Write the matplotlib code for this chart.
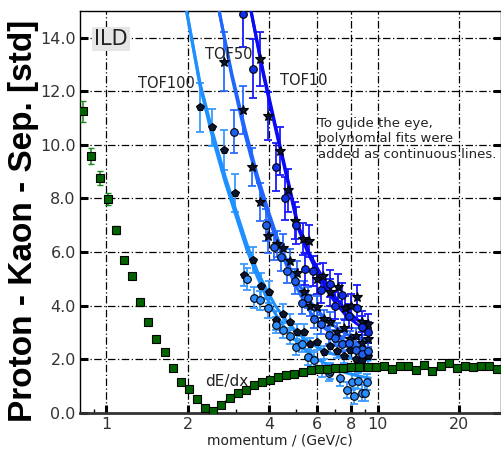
import numpy as np
import matplotlib
matplotlib.use('Agg')
import matplotlib.pyplot as plt
from matplotlib.ticker import FixedLocator, FixedFormatter, NullFormatter

# ---------------- data ----------------
# dE/dx separation (green squares)
dedx_p = [0.825, 0.884, 0.947, 1.014, 1.087, 1.164, 1.247, 1.336, 1.431, 1.533,
          1.643, 1.760, 1.885, 2.020, 2.164, 2.318, 2.483, 2.660, 2.850, 3.053,
          3.271, 3.504, 3.753, 4.021, 4.308, 4.615, 4.944, 5.296, 5.674, 6.078,
          6.512, 6.976, 7.473, 8.006, 8.577, 9.189, 9.844, 10.545, 11.297, 12.103,
          12.966, 13.890, 14.880, 15.941, 17.078, 18.295, 19.600, 20.997, 22.494,
          24.098, 25.816, 27.657]
dedx_y = [11.25, 9.57, 8.76, 7.98, 6.83, 5.71, 5.09, 4.12, 3.38, 2.77,
          2.26, 1.68, 1.15, 0.89, 0.50, 0.16, 0.05, 0.27, 0.56, 0.72,
          0.86, 1.03, 1.13, 1.24, 1.34, 1.40, 1.44, 1.53, 1.59, 1.62,
          1.64, 1.66, 1.68, 1.69, 1.70, 1.70, 1.69, 1.74, 1.63, 1.74,
          1.74, 1.61, 1.78, 1.56, 1.76, 1.84, 1.68, 1.76, 1.71, 1.76,
          1.74, 1.63]
dedx_err = [0.4, 0.3, 0.25, 0.22, 0.15, 0.1, 0.08, 0.06, 0.05, 0.05,
            0.05, 0.05, 0.05, 0.05, 0.05, 0.05, 0.05, 0.05, 0.05, 0.05,
            0.05, 0.05, 0.05, 0.05, 0.05, 0.05, 0.05, 0.05, 0.05, 0.05,
            0.05, 0.05, 0.05, 0.05, 0.05, 0.05, 0.05, 0.05, 0.05, 0.05,
            0.05, 0.05, 0.05, 0.05, 0.05, 0.05, 0.05, 0.05, 0.05, 0.05,
            0.05, 0.05]

# TOF100 (light blue)
p100a = [2.22, 2.46, 2.72, 2.98, 3.23, 3.48, 3.72, 3.98, 4.22, 4.5, 4.78, 5.05,
         5.35, 5.65, 6.0, 6.35, 6.7, 7.1, 7.5, 7.9, 8.3, 8.75, 9.2]
y100a = [11.4, 10.65, 9.8, 8.2, 5.15, 5.7, 4.75, 4.5, 3.45, 3.7, 3.4, 3.0,
         3.0, 2.55, 2.65, 2.25, 2.5, 2.3, 2.1, 2.35, 2.0, 1.95, 2.1]
e100a = [0.9, 0.7, 0.75, 0.7, 0.4, 0.5, 0.45, 0.4, 0.35, 0.35, 0.3, 0.3,
         0.3, 0.25, 0.3, 0.25, 0.3, 0.25, 0.25, 0.3, 0.25, 0.25, 0.3]
p100b = [3.3, 3.52, 3.69, 3.95, 4.22, 4.48, 4.75, 5.0, 5.25, 5.56, 5.85, 6.24,
         6.6, 6.7, 7.28, 7.7, 8.04, 8.2, 8.5, 8.75, 9.0, 9.15]
y100b = [5.0, 4.3, 4.2, 3.9, 3.27, 3.1, 2.85, 2.45, 2.58, 2.08, 1.95, 1.65,
         1.5, 1.56, 1.28, 0.85, 1.15, 0.63, 1.2, 0.72, 0.75, 1.15]
e100b = [0.4, 0.4, 0.35, 0.35, 0.3, 0.3, 0.3, 0.3, 0.3, 0.3, 0.3, 0.3,
         0.3, 0.3, 0.3, 0.3, 0.3, 0.3, 0.3, 0.3, 0.3, 0.3]

# TOF50 (medium blue)
p50a = [2.72, 3.2, 3.45, 3.69, 3.96, 4.26, 4.5, 4.76, 5.05, 5.35, 5.65, 6.0,
        6.35, 6.7, 7.1, 7.5, 7.9, 8.3, 8.75, 9.2]
y50a = [13.1, 11.3, 9.18, 7.86, 6.58, 6.3, 6.16, 5.68, 5.2, 4.5, 4.0, 3.95,
        3.5, 3.4, 3.0, 3.15, 2.75, 2.85, 2.6, 2.75]
e50a = [1.1, 0.9, 0.7, 0.7, 0.6, 0.5, 0.5, 0.45, 0.45, 0.4, 0.4, 0.4,
        0.35, 0.35, 0.35, 0.35, 0.3, 0.3, 0.3, 0.3]
p50b = [2.96, 3.9, 4.15, 4.4, 4.65, 4.95, 5.25, 5.55, 5.85, 6.2, 6.6, 7.0,
        7.4, 7.85, 8.3, 8.75, 9.2]
y50b = [10.5, 7.0, 6.2, 5.8, 5.3, 4.9, 4.1, 4.3, 3.5, 3.3, 2.9, 2.8,
        2.55, 2.6, 2.35, 2.2, 2.3]
e50b = [0.8, 0.6, 0.5, 0.5, 0.45, 0.45, 0.4, 0.4, 0.35, 0.35, 0.35, 0.3,
        0.3, 0.3, 0.3, 0.3, 0.3]

# TOF10 (dark blue)
p10a = [3.7, 3.96, 4.38, 4.7, 4.97, 5.3, 5.6, 5.98, 6.3, 6.68, 7.16, 7.6,
        8.0, 8.37, 8.8, 9.2]
y10a = [13.2, 11.08, 9.78, 8.3, 7.17, 6.5, 6.4, 5.0, 5.1, 4.5, 4.69, 3.9,
        4.0, 4.32, 3.4, 3.3]
e10a = [1.0, 0.9, 0.9, 0.8, 0.7, 0.6, 0.6, 0.55, 0.5, 0.5, 0.5, 0.45,
        0.45, 0.45, 0.4, 0.4]
p10b = [3.2, 3.47, 4.22, 4.55, 5.0, 5.41, 5.8, 6.2, 6.68, 7.0, 7.4, 7.85,
        8.37, 8.8, 9.2]
y10b = [14.87, 12.85, 9.18, 8.0, 7.0, 5.38, 5.3, 4.6, 4.82, 4.0, 4.4, 3.6,
        3.9, 3.2, 3.0]
e10b = [1.2, 1.1, 0.9, 0.8, 0.7, 0.6, 0.55, 0.5, 0.5, 0.5, 0.45, 0.45,
        0.45, 0.4, 0.4]

# polynomial-fit guide lines
fit100u_p = [1.98, 2.22, 2.48, 2.75, 3.0, 3.3, 3.6, 3.9, 4.2, 4.6, 5.0, 5.4, 6.0, 6.8, 7.6, 8.5, 9.5]
fit100u_y = [15.0, 12.3, 10.4, 8.8, 7.6, 6.3, 5.3, 4.6, 4.0, 3.45, 3.05, 2.75, 2.45, 2.2, 2.07, 2.0, 1.96]
fit100l_p = [1.98, 2.22, 2.48, 2.75, 3.0, 3.3, 3.6, 3.9, 4.2, 4.6, 5.0, 5.4, 6.0, 6.8, 7.6, 8.5, 9.5]
fit100l_y = [15.0, 12.2, 10.2, 8.6, 7.4, 6.1, 5.1, 4.3, 3.7, 3.1, 2.7, 2.35, 2.0, 1.7, 1.5, 1.37, 1.28]
fit50u_p = [2.61, 2.9, 3.25, 3.6, 4.0, 4.32, 4.76, 5.2, 5.7, 6.3, 7.0, 7.8, 8.6, 9.5]
fit50u_y = [15.0, 12.7, 10.6, 8.9, 7.4, 6.4, 5.4, 4.7, 4.1, 3.6, 3.2, 2.9, 2.75, 2.64]
fit50l_p = [2.61, 2.9, 3.25, 3.6, 4.0, 4.32, 4.76, 5.2, 5.7, 6.3, 7.0, 7.8, 8.6, 9.5]
fit50l_y = [15.0, 12.6, 10.4, 8.7, 7.2, 6.2, 5.2, 4.4, 3.7, 3.2, 2.85, 2.6, 2.43, 2.33]
fit10u_p = [3.42, 3.8, 4.3, 4.7, 5.1, 5.55, 6.0, 6.5, 7.0, 7.7, 8.5, 9.5]
fit10u_y = [15.0, 12.7, 10.3, 8.6, 7.0, 6.05, 5.4, 4.8, 4.3, 3.8, 3.45, 3.27]
fit10l_p = [3.42, 3.8, 4.3, 4.7, 5.1, 5.55, 6.0, 6.5, 7.0, 7.7, 8.5, 9.5]
fit10l_y = [15.0, 12.6, 10.2, 8.5, 6.9, 5.95, 5.25, 4.6, 4.1, 3.6, 3.28, 3.08]

x_ticks = [1, 2, 4, 6, 8, 10, 20]
x_minor = [0.9, 3, 5, 7, 9]
y_ticks = [0, 2, 4, 6, 8, 10, 12, 14]
y_labels = ['0.0', '2.0', '4.0', '6.0', '8.0', '10.0', '12.0', '14.0']

# ---------------- plot ----------------
fig = plt.figure(figsize=(5.02, 4.51), dpi=100)
ax = fig.add_axes([0.1594, 0.0849, 0.8386, 0.8907])
ax.set_xscale('log')
ax.set_xlim(0.802, 28.5)
ax.set_ylim(0, 15)

grid_ls = (0, (6, 2, 1, 2))
for xv in x_ticks:
    ax.axvline(xv, color='black', lw=0.9, ls=grid_ls, zorder=1)
for yv in y_ticks[1:]:
    ax.axhline(yv, color='black', lw=0.9, ls=grid_ls, zorder=1)

dark = '#0b1530'
series = [
    (p100a, y100a, e100a, '#3a9bff', 'p', dark),
    (p100b, y100b, e100b, '#3a9bff', 'o', '#2a8cff'),
    (p50a, y50a, e50a, '#2b6cff', '*', dark),
    (p50b, y50b, e50b, '#2b6cff', 'o', '#1f5ff0'),
    (p10a, y10a, e10a, '#1a1aff', '*', dark),
    (p10b, y10b, e10b, '#1a1aff', 'o', '#1030e8'),
]
for px_, py_, pe_, ecol, mk, fc in series:
    ax.errorbar(px_, py_, yerr=pe_, fmt='none', ecolor=ecol, elinewidth=1.3,
                capsize=3, capthick=1.3, zorder=3)

fits = [
    (fit100u_p, fit100u_y, '#1e90ff'),
    (fit100l_p, fit100l_y, '#1e90ff'),
    (fit50u_p, fit50u_y, '#1f66ff'),
    (fit50l_p, fit50l_y, '#1f66ff'),
    (fit10u_p, fit10u_y, '#0a0af5'),
    (fit10l_p, fit10l_y, '#0a0af5'),
]
for fp, fy, col in fits:
    ax.plot(fp, fy, color=col, lw=2.2, zorder=4, solid_capstyle='butt')

for px_, py_, pe_, ecol, mk, fc in series:
    ms = 7 if mk == '*' else 5.5
    ax.plot(px_, py_, ls='none', marker=mk, ms=ms, mfc=fc, mec='black',
            mew=0.8, zorder=5)

# dE/dx
ax.errorbar(dedx_p[:6], dedx_y[:6], yerr=dedx_err[:6], fmt='none',
            ecolor='#1a8a1a', elinewidth=1.1, capsize=2.5, zorder=3)
ax.plot(dedx_p[16:], dedx_y[16:], color='#1a9a1a', lw=1.5, zorder=3)
ax.plot(dedx_p, dedx_y, ls='none', marker='s', ms=5.5, mfc='#006400',
        mec='black', mew=0.8, zorder=5)

# axes styling
ax.xaxis.set_major_locator(FixedLocator(x_ticks))
ax.xaxis.set_major_formatter(FixedFormatter([str(v) for v in x_ticks]))
ax.xaxis.set_minor_locator(FixedLocator(x_minor))
ax.xaxis.set_minor_formatter(NullFormatter())
ax.yaxis.set_major_locator(FixedLocator(y_ticks))
ax.yaxis.set_major_formatter(FixedFormatter(y_labels))
ax.yaxis.set_minor_locator(FixedLocator([]))

tick_font = ['Liberation Sans Narrow', 'DejaVu Sans']
ax.tick_params(axis='both', which='major', direction='in', length=6, width=2.2,
               labelsize=11.5, labelcolor='#333333', colors='black', pad=3)
ax.tick_params(axis='both', which='minor', direction='in', length=3, width=1)
ax.tick_params(axis='y', which='both', left=True, right=True)
for lab in ax.get_xticklabels() + ax.get_yticklabels():
    lab.set_family(tick_font)
    lab.set_color('#333333')

for s in ax.spines.values():
    s.set_linewidth(1.0)
ax.spines['bottom'].set_linewidth(2.0)
ax.spines['bottom'].set_color('#333333')

# texts
ann = dict(color='#222222', family='DejaVu Sans', zorder=6)
ax.text(0.905, 13.95, 'ILD', fontsize=15, va='center', ha='left',
        bbox=dict(facecolor='#e6e6e6', edgecolor='none', pad=1.5), **ann)
ax.text(1.31, 12.31, 'TOF100', fontsize=10.5, va='center', ha='left', **ann)
ax.text(2.31, 13.39, 'TOF50', fontsize=10.5, va='center', ha='left', **ann)
ax.text(4.38, 12.42, 'TOF10', fontsize=10.5, va='center', ha='left', **ann)
ax.text(6.04, 11.05, 'To guide the eye,\npolynomial fits were\nadded as continuous lines.',
        fontsize=9.5, va='top', ha='left', linespacing=1.25, **ann)
ax.text(2.31, 1.18, 'dE/dx', fontsize=11, va='center', ha='left', **ann)

fig.text(280 / 502, 1 - 440 / 451, 'momentum / (GeV/c)', fontsize=10,
         ha='center', va='center', color='#222222', family='DejaVu Sans')
fig.text(24 / 502, 29 / 451, 'Proton - Kaon - Sep. [std]', fontsize=24,
         rotation=90, ha='center', va='bottom', fontweight='bold',
         family=['Liberation Sans', 'DejaVu Sans'], color='black')

fig.savefig('out.png', dpi=100)
